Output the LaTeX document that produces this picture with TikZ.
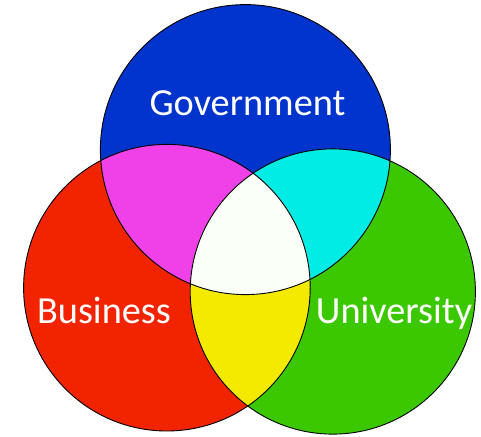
\documentclass[tikz,border=0pt]{standalone}
\usepackage{fontspec}
\setmainfont{Carlito}
\definecolor{govblue}{RGB}{0,52,204}
\definecolor{busred}{RGB}{242,36,0}
\definecolor{unigreen}{RGB}{60,200,0}
\definecolor{gbmag}{RGB}{240,64,232}
\definecolor{gucyan}{RGB}{0,236,228}
\definecolor{buyellow}{RGB}{244,234,0}
\definecolor{allwhite}{RGB}{250,255,248}
\begin{document}
\begin{tikzpicture}[x=1pt,y=-1pt,
  lbl/.style={text=white,font=\fontsize{38.3}{41}\selectfont,inner sep=0pt,anchor=base},
  rim/.style={draw=black,line width=0.9pt}]
\useasboundingbox (0,0) rectangle (481,436);
\coordinate (gc) at (245.4,149.6);
\coordinate (bc) at (166.9,287.7);
\coordinate (uc) at (332.8,291.5);
\def\rg{145pt}\def\rb{143.3pt}\def\ru{142.6pt}
% base fills
\fill[govblue] (gc) circle[radius=\rg];
\fill[busred] (bc) circle[radius=\rb];
\fill[unigreen] (uc) circle[radius=\ru];
% pairwise intersections
\begin{scope}
  \clip (gc) circle[radius=\rg];
  \fill[gbmag] (bc) circle[radius=\rb];
  \fill[gucyan] (uc) circle[radius=\ru];
\end{scope}
\begin{scope}
  \clip (bc) circle[radius=\rb];
  \fill[buyellow] (uc) circle[radius=\ru];
\end{scope}
% triple intersection
\begin{scope}
  \clip (gc) circle[radius=\rg];
  \clip (bc) circle[radius=\rb];
  \fill[allwhite] (uc) circle[radius=\ru];
\end{scope}
% outlines
\draw[rim] (gc) circle[radius=\rg];
\draw[rim] (bc) circle[radius=\rb];
\draw[rim] (uc) circle[radius=\ru];
% labels
\node[lbl] (gov) at (247.5,115) {Government};
\node[lbl] (bus) at (104,323) {Business};
\node[lbl] (uni) at (394,323) {University};
\end{tikzpicture}
\end{document}
